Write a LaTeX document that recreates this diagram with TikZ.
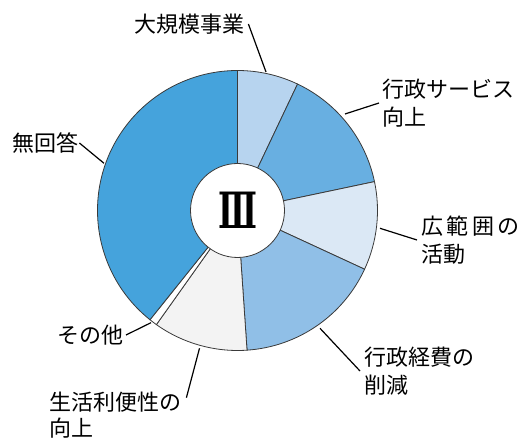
\documentclass[tikz,border=0pt]{standalone}
\usepackage{fontspec}
\newfontfamily\jp{Noto Sans CJK JP}
\newfontfamily\numfont{DejaVu Serif}
\definecolor{cA}{HTML}{B7D4EF}
\definecolor{cB}{HTML}{68AFE1}
\definecolor{cC}{HTML}{DBE8F5}
\definecolor{cD}{HTML}{90BFE7}
\definecolor{cE}{HTML}{F3F3F3}
\definecolor{cF}{HTML}{FFFFFF}
\definecolor{cG}{HTML}{45A3DC}
\definecolor{edge}{HTML}{3A3A3A}
\tikzset{
  wedge/.style={draw=edge, line width=0.8pt, line join=round},
  lab/.style={font=\jp\fontsize{22}{28}\selectfont, inner sep=0pt, align=left},
  leader/.style={draw=black, line width=1.2pt},
  hole/.style={circle, draw=edge, line width=0.8pt, fill=white, minimum size=94pt, inner sep=0pt}
}
\begin{document}
\begin{tikzpicture}[x=1pt,y=1pt]
\useasboundingbox (0,0) rectangle (531,-438);
\coordinate (O) at (237.5,-210.5);
\foreach \a/\b/\col in {0/25.4/cA, 25.4/78.1/cB, 78.1/114.8/cC, 114.8/176.1/cD, 176.1/215.4/cE, 215.4/218.7/cF, 218.7/360/cG}{
  \draw[wedge, fill=\col] (O) -- ++({90-\a}:140) arc[start angle={90-\a}, end angle={90-\b}, radius=140] -- cycle;
}
\node[hole] (mid) at (O) {\scalebox{0.8}[1.25]{\numfont\bfseries\fontsize{40}{40}\selectfont Ⅲ}};
% labels
\node[lab, anchor=west] (l1) at (134,-24) {大規模事業};
\node[lab, anchor=west] (l2) at (382,-103) {行政サービス\\向上};
\node[lab, anchor=west] (l3) at (421,-240) {広\hspace{3.5pt}範\hspace{3.5pt}囲\hspace{3.5pt}の\\活動};
\node[lab, anchor=west] (l4) at (364,-371) {行政経費の\\削減};
\node[lab, anchor=east] (l5) at (124,-335) {その他};
\node[lab, anchor=west, font=\jp\fontsize{22}{26}\selectfont] (l6) at (49,-415) {生活利便性の\\向上};
\node[lab, anchor=west] (l7) at (12,-143) {無回答};
% leader ends
\coordinate (e1) at (266,-72);
\coordinate (e2) at (345,-114);
\coordinate (e3) at (380,-228.3);
\coordinate (e4) at (320,-328.3);
\coordinate (e5) at (151,-322.7);
\coordinate (e6) at (199.5,-348.3);
\coordinate (e7) at (104,-163.3);
\draw[leader] ([xshift=4pt]l1.east) -- (e1);
\draw[leader] ([xshift=-3pt]l2.west) -- (e2);
\draw[leader] ([xshift=-4pt]l3.west) -- (e3);
\draw[leader] ([xshift=-4pt]l4.west) -- (e4);
\draw[leader] ([xshift=2pt]l5.east) -- (e5);
\draw[leader] ([xshift=5pt,yshift=-6pt]l6.north east) -- (e6);
\draw[leader] ([xshift=1pt]l7.east) -- (e7);
\end{tikzpicture}
\end{document}
